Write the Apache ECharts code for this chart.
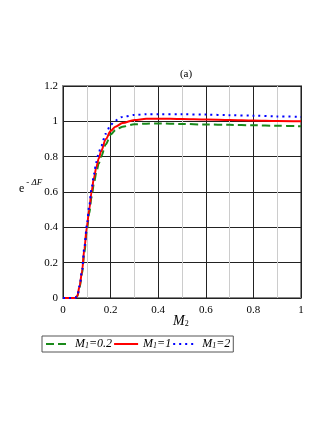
<!DOCTYPE html>
<html>
<head>
<meta charset="utf-8">
<script src="https://cdn.jsdelivr.net/npm/echarts@6/dist/echarts.min.js"></script>
<style>
  html, body { margin: 0; padding: 0; background: #fff; }
  #chart { width: 327px; height: 423px; }
</style>
</head>
<body>
<div id="chart"></div>
<script>
// M2 values (x axis)
const m2 = [0, 0.02, 0.04, 0.05, 0.06, 0.07, 0.08, 0.09, 0.1, 0.11, 0.12, 0.13, 0.14, 0.15, 0.16, 0.18, 0.2, 0.22, 0.25, 0.3, 0.35, 0.4, 0.5, 0.6, 0.7, 0.8, 0.9, 1.0]

// e^-dF for each M1
const m1_02 = [0, 0, 0, 0, 0.01, 0.06, 0.14, 0.26, 0.38, 0.48, 0.57, 0.65, 0.71, 0.76, 0.8, 0.87, 0.925, 0.95, 0.97, 0.983, 0.987, 0.988, 0.985, 0.982, 0.98, 0.978, 0.975, 0.972]
const m1_1 = [0, 0, 0, 0, 0.01, 0.07, 0.15, 0.28, 0.4, 0.5, 0.6, 0.68, 0.74, 0.79, 0.83, 0.9, 0.945, 0.97, 0.99, 1.008, 1.014, 1.015, 1.013, 1.01, 1.008, 1.005, 1.002, 1.0]
const m1_2 = [0, 0, 0, 0, 0.01, 0.07, 0.16, 0.29, 0.41, 0.52, 0.62, 0.7, 0.77, 0.82, 0.86, 0.93, 0.98, 1.005, 1.025, 1.036, 1.04, 1.04, 1.04, 1.038, 1.035, 1.032, 1.028, 1.025]

const xTicks = [0, 0.2, 0.4, 0.6, 0.8, 1]
const yTicks = [0, 0.2, 0.4, 0.6, 0.8, 1, 1.2]

const serif = 'Liberation Serif'

const pairs = (ys) => m2.map((x, i) => [x, ys[i]])

const chart = echarts.init(document.getElementById('chart'))
chart.setOption({
  animation: false,
  textStyle: { fontFamily: serif },
  title: {
    text: '(a)',
    left: 181,
    top: 64,
    textAlign: 'center',
    textStyle: { fontFamily: serif, fontSize: 11, fontWeight: 'normal', color: '#000' }
  },
  grid: {
    left: 63, right: 26, top: 86, bottom: 125,
    show: true, borderColor: '#888', borderWidth: 2
  },
  xAxis: {
    type: 'value', min: 0, max: 1, interval: 0.2,
    axisLine: { show: false },
    axisTick: { show: false },
    axisLabel: {
      color: '#000', fontSize: 11, fontFamily: serif, margin: 7,
      formatter: v => xTicks.includes(Math.round(v * 10) / 10) ? String(Math.round(v * 10) / 10) : ''
    },
    splitLine: { lineStyle: { color: '#222', width: 1 } },
    minorTick: { show: false, splitNumber: 2 },
    minorSplitLine: { show: true, lineStyle: { color: '#ccc', width: 1 } }
  },
  yAxis: {
    type: 'value', min: 0, max: 1.2, interval: 0.2,
    axisLine: { show: false },
    axisTick: { show: false },
    axisLabel: {
      color: '#000', fontSize: 11, fontFamily: serif, margin: 5,
      formatter: v => {
        const r = Math.round(v * 10) / 10
        return yTicks.includes(r) ? String(r) : ''
      }
    },
    splitLine: { lineStyle: { color: '#222', width: 1 } }
  },
  legend: {
    left: 42, top: 336,
    width: 320,
    borderColor: '#555', borderWidth: 1,
    padding: [2, 3, 2, 3],
    itemWidth: 24, itemHeight: 10, itemGap: 1,
    itemStyle: { opacity: 0, borderWidth: 0 },
    textStyle: {
      fontFamily: serif, fontSize: 12, color: '#000',
      rich: {
        m: { fontFamily: serif, fontStyle: 'italic', fontSize: 12 },
        s: { fontFamily: serif, fontStyle: 'italic', fontSize: 8, verticalAlign: 'bottom', padding: [4, 0, 0, 0] },
        t: { fontFamily: serif, fontStyle: 'italic', fontSize: 12 }
      }
    },
    formatter: name => '{m|M}{s|1}{t|' + name.replace('M1', '') + '}',
    data: ['M1=0.2', 'M1=1', 'M1=2']
  },
  graphic: [
    {
      type: 'text', left: 19, top: 178,
      style: {
        text: '{e|e}{p|- ΔF}',
        rich: {
          e: { fontFamily: serif, fontSize: 12, fill: '#000', padding: [7, 2, 0, 0] },
          p: { fontFamily: serif, fontSize: 9, fontStyle: 'italic', fill: '#000', padding: [0, 0, 6, 0] }
        }
      }
    },
    {
      type: 'text', left: 173, top: 314,
      style: {
        text: '{m|M}{s|2}',
        rich: {
          m: { fontFamily: serif, fontSize: 14, fontStyle: 'italic', fill: '#000' },
          s: { fontFamily: serif, fontSize: 8, fill: '#000', padding: [6, 0, 0, 0] }
        }
      }
    }
  ],
  series: [
    {
      name: 'M1=0.2', type: 'line', data: pairs(m1_02),
      showSymbol: false, symbol: 'none', smooth: 0.3, smoothMonotone: 'x', z: 3,
      lineStyle: { color: '#1a8a1a', width: 2, type: [8, 4] },
      itemStyle: { color: '#1a8a1a' }
    },
    {
      name: 'M1=1', type: 'line', data: pairs(m1_1),
      showSymbol: false, symbol: 'none', smooth: 0.3, smoothMonotone: 'x', z: 4,
      lineStyle: { color: '#ff0000', width: 2, type: 'solid' },
      itemStyle: { color: '#ff0000' }
    },
    {
      name: 'M1=2', type: 'line', data: pairs(m1_2),
      showSymbol: false, symbol: 'none', smooth: 0.3, smoothMonotone: 'x', z: 5,
      lineStyle: { color: '#0000ff', width: 2, type: [2, 4] },
      itemStyle: { color: '#0000ff' }
    }
  ]
})
</script>
</body>
</html>
